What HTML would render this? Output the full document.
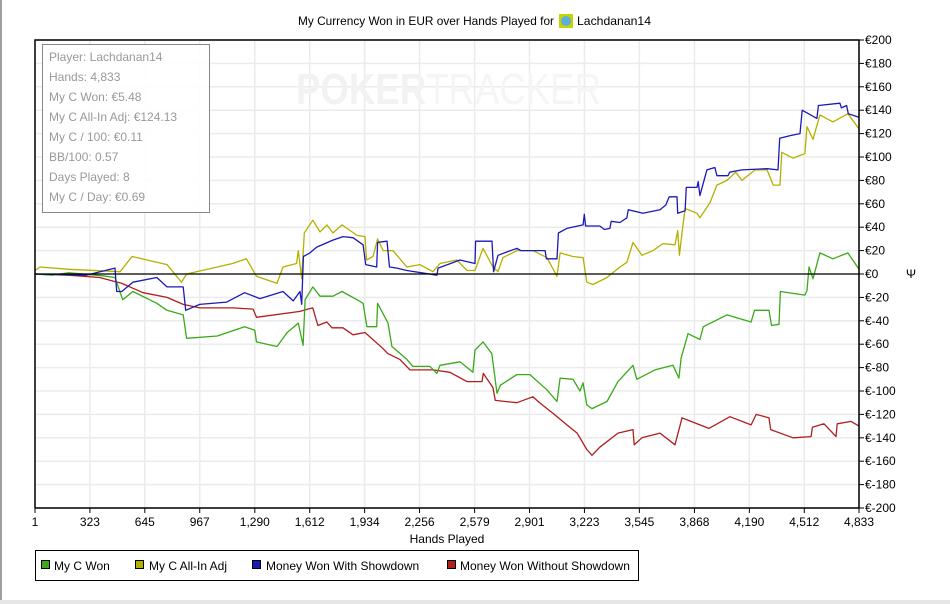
<!DOCTYPE html>
<html><head><meta charset="utf-8"><style>
body{margin:0;background:#fff;width:950px;height:604px;overflow:hidden;position:relative;font-family:"Liberation Sans",sans-serif}
#leftbar{position:absolute;left:0;top:0;width:2px;height:600px;background:#a0a0a0}
#botbar{position:absolute;left:0;top:600px;width:950px;height:4px;background:#e6e6e6}
svg{position:absolute;left:0;top:0}
</style></head><body>
<div id="leftbar"></div>
<div id="botbar"></div>
<svg id="chart" width="950" height="604"></svg>
<script>
const xTicks=[1,323,645,967,1290,1612,1934,2256,2579,2901,3223,3545,3868,4190,4512,4833];
const xTickLabels=["1","323","645","967","1,290","1,612","1,934","2,256","2,579","2,901","3,223","3,545","3,868","4,190","4,512","4,833"];
const yTicks=[200,180,160,140,120,100,80,60,40,20,0,-20,-40,-60,-80,-100,-120,-140,-160,-180,-200];
const greenHands=[1,100,200,400,470,515,575,715,775,870,890,1070,1230,1290,1300,1420,1480,1545,1573,1585,1630,1672,1748,1801,1889,1925,1947,2005,2010,2071,2094,2182,2217,2317,2358,2376,2493,2569,2581,2628,2680,2710,2730,2827,2903,3003,3062,3080,3156,3197,3215,3237,3267,3355,3420,3508,3530,3637,3742,3777,3790,3830,3900,3920,4059,4200,4220,4305,4320,4364,4372,4516,4528,4540,4563,4604,4680,4768,4833];
const greenVals=[0,-1,1,-1.5,-3,-22,-15,-25,-31,-35,-55,-53,-45,-48,-58,-62,-50,-42,-61,-22,-11,-19,-19,-15,-22,-25,-45,-45,-25,-42,-62,-73,-79,-79,-85,-78,-75,-84,-65,-58,-68,-102,-95,-86,-86,-99,-109,-89,-90,-100,-93,-112,-115,-109,-92,-78,-90,-82,-78,-89,-72,-51,-56,-45,-35,-41,-31,-31,-44,-43,-15,-18,-14,6,-4,18,13,18,4];
const yellowHands=[1,30,200,500,570,775,860,890,1160,1240,1300,1420,1455,1535,1545,1565,1580,1630,1672,1713,1748,1801,1889,1936,1945,1983,2010,2042,2100,2182,2258,2335,2376,2475,2534,2581,2628,2686,2716,2745,2827,2921,3003,3062,3080,3156,3215,3237,3273,3355,3431,3472,3508,3560,3625,3683,3754,3770,3780,3795,3813,3883,3900,3959,4000,4059,4110,4147,4223,4294,4330,4370,4380,4446,4516,4528,4563,4604,4680,4768,4833];
const yellowVals=[3,6,4,2,15,8,-7,0,9,13,-2,-8,6,9,20,-4,35,46,36,42,35,42,33,32,12,15,30,20,20,6,8,2,9,12,3,3,22,6,2,14,20,20,14,-2,18,15,14,-7,-9,-3,6,10,27,16,20,26,25,37,16,35,56,52,48,61,76,80,87,80,89,89,76,76,104,99,103,126,115,136,130,137,124];
const blueHands=[1,300,470,480,510,575,715,775,870,885,967,1125,1230,1320,1455,1515,1555,1565,1575,1613,1653,1748,1807,1866,1925,1940,2005,2010,2065,2080,2123,2182,2358,2365,2493,2581,2585,2681,2690,2716,2827,2850,2992,3000,3062,3070,3120,3215,3222,3230,3313,3340,3372,3380,3431,3472,3480,3566,3666,3700,3720,3766,3770,3813,3820,3883,3890,3900,3941,3988,4000,4065,4075,4147,4294,4358,4368,4423,4487,4500,4586,4595,4721,4730,4760,4770,4833];
const blueVals=[0,-1,5,-15,-15,-7,-3,-11,-11,-31,-26,-24,-16,-21,-15,-23,-15,-26,15,18,23,29,32,31,25,8,6,27,28,6,5,3,-1,5,12,9,28,28,2,16,22,20,20,13,13,35,39,42,51,41,41,38,39,45,44,48,55,52,55,59,66,66,52,54,74,74,79,67,89,91,84,84,87,89,90,89,116,118,120,140,133,144,146,142,144,137,134];
const redHands=[1,200,380,510,635,775,870,967,1160,1280,1300,1555,1600,1630,1660,1713,1742,1807,1866,1936,2036,2070,2141,2200,2335,2434,2534,2622,2630,2686,2700,2827,2921,2960,3038,3120,3180,3237,3267,3313,3420,3508,3515,3560,3666,3754,3795,3953,4076,4200,4230,4305,4315,4446,4552,4560,4628,4698,4705,4786,4833];
const redVals=[0,-1,-3,-8,-16,-20,-26,-29,-29,-30,-37,-32,-30,-29,-44,-41,-46,-46,-52,-50,-63,-68,-73,-82,-82,-84,-92,-92,-85,-97,-108,-110,-105,-110,-119,-129,-136,-150,-155,-148,-136,-133,-146,-140,-136,-146,-123,-132,-122,-129,-120,-123,-133,-140,-139,-131,-128,-139,-128,-126,-130];

const NS='http://www.w3.org/2000/svg';
const svg=document.getElementById('chart');
const L=35,R=859,T=40,B=508;
const xs=h=>L+(h-1)/(4833-1)*(R-L);
const ys=v=>T+(200-v)/400*(B-T);
function mk(tag,attrs,parent){const e=document.createElementNS(NS,tag);for(const k in attrs)e.setAttribute(k,attrs[k]);(parent||svg).appendChild(e);return e;}

const grid=mk('g',{});


xTicks.forEach(t=>{const l=mk('line',{x1:xs(t),x2:xs(t),y1:T,y2:B,stroke:'#ebebeb','stroke-width':1.5},grid);

});
yTicks.forEach(t=>{const l=mk('line',{x1:L,x2:R,y1:ys(t),y2:ys(t),stroke:'#ebebeb','stroke-width':1.5},grid);

});

const wm=mk('text',{x:296,y:104,'font-size':44,'font-weight':'bold',fill:'#f2f2f2','font-family':'Liberation Sans, sans-serif',textLength:305,lengthAdjust:'spacingAndGlyphs'});


wm.innerHTML='POKER<tspan font-weight="normal" fill="#f5f5f5">TRACKER</tspan>';

function series(hands,vals,color,name){
  let d='';hands.forEach((h,i)=>{d+=(i?'L':'M')+xs(h).toFixed(1)+','+ys(vals[i]).toFixed(1);});
  const p=mk('path',{d:d,fill:'none',stroke:color,'stroke-width':1.3,'stroke-linejoin':'round'});
  
  
}
series(redHands,redVals,'#b01e1e','line-money-won-without-showdown');
series(greenHands,greenVals,'#3aaa1a','line-my-c-won');
series(yellowHands,yellowVals,'#b5b000','line-my-c-all-in-adj');
series(blueHands,blueVals,'#1a1ab8','line-money-won-with-showdown');

const z=mk('line',{x1:L,x2:R,y1:ys(0),y2:ys(0),stroke:'#000','stroke-width':1.2});



const fr=mk('path',{d:`M${L},${B}L${L},${T}L${R},${T}L${R},${B}L${L},${B}`,fill:'none',stroke:'#000','stroke-width':1.5});



xTicks.forEach((t,i)=>{
  const tk=mk('line',{x1:xs(t),x2:xs(t),y1:B,y2:B+5,stroke:'#000'});
  
  
  const tx=mk('text',{x:xs(t),y:B+18,'font-size':12,'text-anchor':'middle',fill:'#000'});
  
  
  tx.textContent=xTickLabels[i];
});
yTicks.forEach(t=>{
  const tk=mk('line',{x1:R,x2:R+5,y1:ys(t),y2:ys(t),stroke:'#000'});
  
  
  const tx=mk('text',{x:R+6,y:ys(t)+4,'font-size':12,fill:'#000'});
  
  
  tx.textContent='€'+t;
});
</script>
<svg width="950" height="604" style="pointer-events:none">
<text x="298" y="25" font-size="12" textLength="256" lengthAdjust="spacingAndGlyphs">My Currency Won in EUR over Hands Played for</text>
<rect x="559" y="14" width="14" height="14" fill="#c8d400"/>
<circle cx="566" cy="21" r="5" fill="#5aaee0"/>
<text x="577" y="25" font-size="12" textLength="74" lengthAdjust="spacingAndGlyphs">Lachdanan14</text>
<text x="906" y="278" font-size="12">Ψ</text>
<text x="447" y="543" font-size="12" text-anchor="middle">Hands Played</text>
<g>
<rect x="42.5" y="44.5" width="167" height="168" fill="#fff" fill-opacity="0.9" stroke="#888" stroke-width="1"/>
<g font-size="12" fill="#999">
<text x="49" y="61">Player: Lachdanan14</text>
<text x="49" y="81">Hands: 4,833</text>
<text x="49" y="101">My C Won: €5.48</text>
<text x="49" y="121">My C All-In Adj: €124.13</text>
<text x="49" y="141">My C / 100: €0.11</text>
<text x="49" y="161">BB/100: 0.57</text>
<text x="49" y="181">Days Played: 8</text>
<text x="49" y="201">My C / Day: €0.69</text>
</g></g>
<g>
<rect x="35.5" y="550.5" width="603" height="30" fill="#fff" stroke="#000" stroke-width="1"/>
<g font-size="12">
<rect x="41.5" y="560.5" width="8" height="8" fill="#3aaa1a" stroke="#000"/>
<text x="54" y="570">My C Won</text>
<rect x="135.5" y="560.5" width="8" height="8" fill="#b5b000" stroke="#000"/>
<text x="149" y="570">My C All-In Adj</text>
<rect x="252.5" y="560.5" width="8" height="8" fill="#1a1ab8" stroke="#000"/>
<text x="266" y="570">Money Won With Showdown</text>
<rect x="447.5" y="560.5" width="8" height="8" fill="#b01e1e" stroke="#000"/>
<text x="460" y="570">Money Won Without Showdown</text>
</g></g>
</svg>
</body></html>
